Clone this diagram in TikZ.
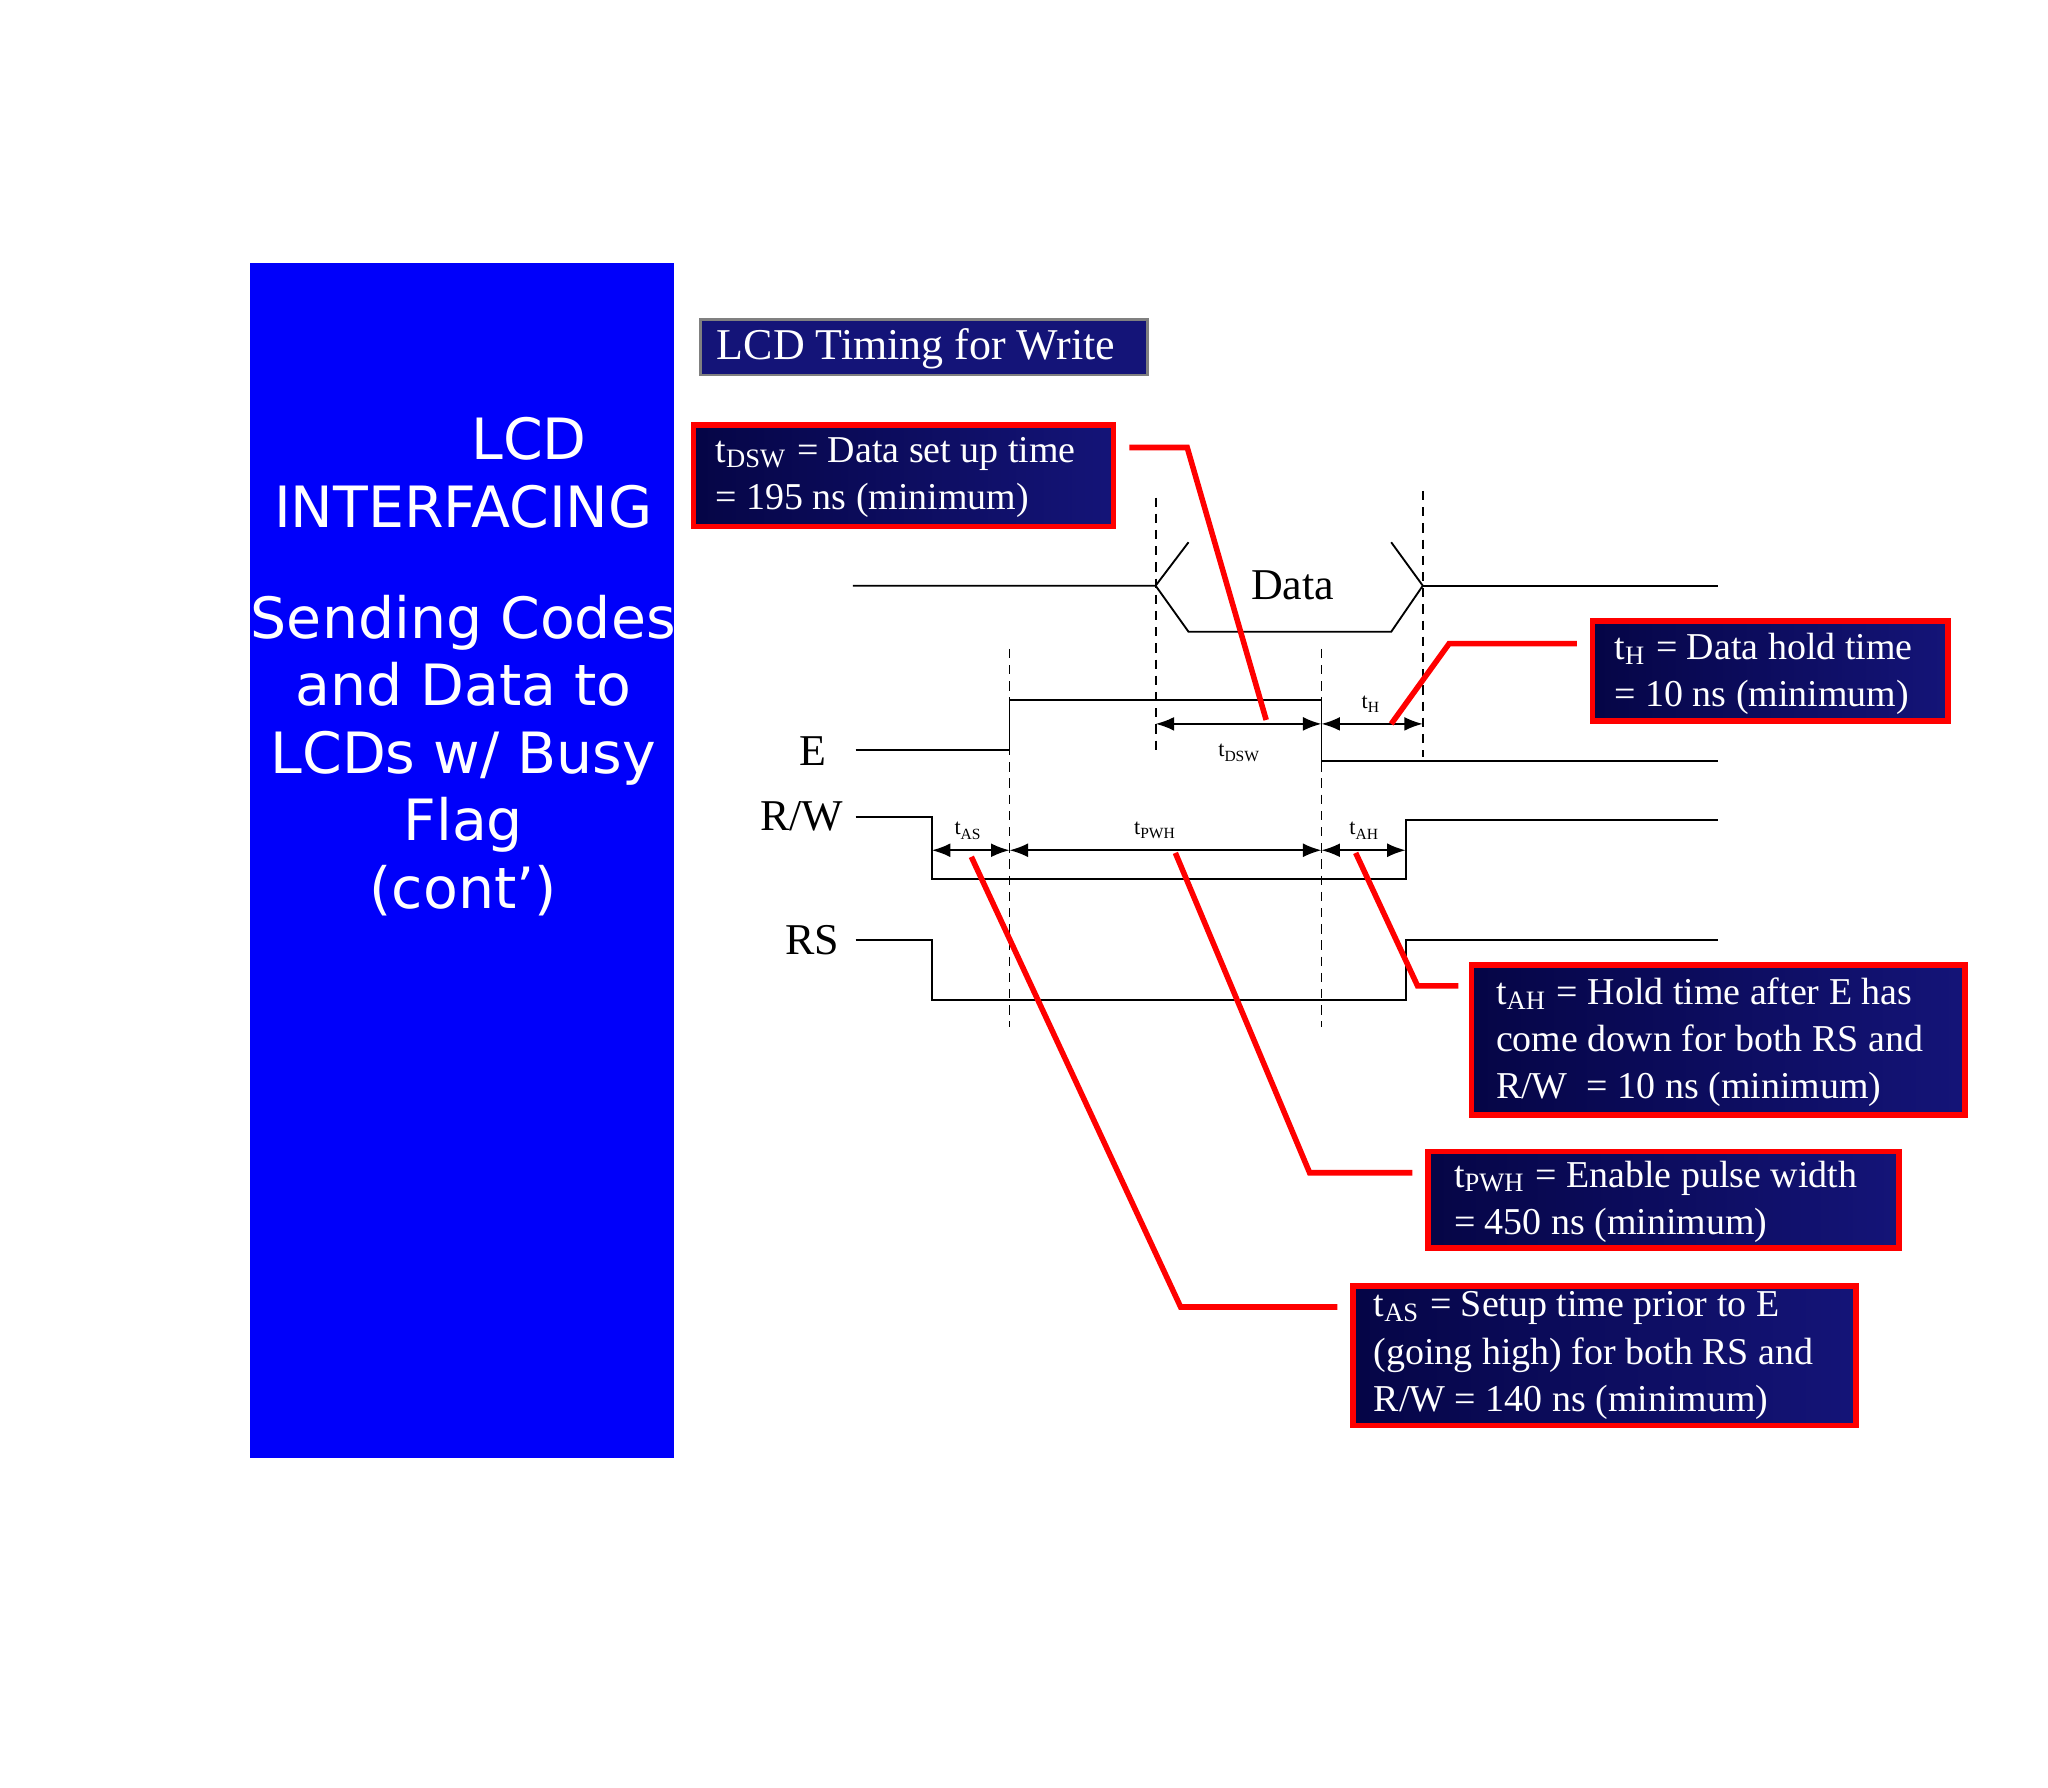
\documentclass[tikz,border=0pt]{standalone}
\usepackage{fontspec}
\setmainfont{Liberation Serif}
\newfontfamily\slidesans{DejaVu Sans}
\usetikzlibrary{arrows.meta}
\definecolor{slideblue}{RGB}{0,0,250}
\definecolor{boxnavy}{RGB}{20,20,120}
\definecolor{boxdark}{RGB}{5,5,70}
\begin{document}
\begin{tikzpicture}[x=0.01cm,y=-0.01cm,
  sig/.style={line width=0.4pt,black},
  dsh/.style={line width=0.4pt,dashed,dash pattern=on 2pt off 1.5pt},
  tarr/.style={line width=0.4pt,{Latex[length=4pt,width=3pt]}-{Latex[length=4pt,width=3pt]}},
  lead/.style={red,line width=1.2pt},
  callout/.style={draw=red,line width=1.2pt,left color=boxdark,right color=boxnavy},
  ctext/.style={white,font=\fontsize{8.2}{10.2}\selectfont,anchor=west,align=left,inner sep=0pt},
  sml/.style={font=\fontsize{4.8}{6}\selectfont},
  lbl/.style={font=\fontsize{9.5}{11}\selectfont},
  hd/.style={white,font=\slidesans\fontsize{12.3}{14.6}\selectfont,align=center}]
\useasboundingbox (0,0) rectangle (1556,1358);
% left panel
\fill[slideblue] (190,200) rectangle (512,1108);
\node[hd] (lcd) at (402,333) {LCD};
\node[hd] (intf) at (352,385) {INTERFACING};
\node[hd] (sub) at (352,574) {Sending Codes\\and Data to\\LCDs w/ Busy\\Flag\\(cont’)};
% title
\draw[gray,line width=0.6pt,fill=boxnavy] (532,243) rectangle (872,285);
\node[white,font=\fontsize{9.5}{12}\selectfont] (title) at (696,265) {LCD Timing for Write};
% callouts
\draw[callout] (527,323) rectangle (846,400);
\node[ctext] (tdsw) at (543,363) {t\textsubscript{DSW} = Data set up time\\= 195 ns (minimum)};
\draw[callout] (1210,472) rectangle (1480,548);
\node[ctext] (th) at (1226,512) {t\textsubscript{H} = Data hold time\\= 10 ns (minimum)};
\draw[callout] (1118,733) rectangle (1493,847);
\node[ctext] (tah) at (1136,792) {t\textsubscript{AH} = Hold time after E has\\come down for both RS and\\R/W\ \ = 10 ns (minimum)};
\draw[callout] (1085,875) rectangle (1443,948);
\node[ctext] (tpwh) at (1104,913) {t\textsubscript{PWH} = Enable pulse width\\= 450 ns (minimum)};
\draw[callout] (1028,977) rectangle (1410,1083);
\node[ctext] (tas) at (1043,1030) {t\textsubscript{AS} = Setup time prior to E\\(going high) for both RS and\\R/W = 140 ns (minimum)};
% Data bus
\draw[sig] (648,445) -- (878,445) -- (903,412);
\draw[sig] (878,445) -- (903,480) -- (1057,480) -- (1081,445) -- (1057,412);
\draw[sig] (1081,445) -- (1305,445);
\node[lbl] (data) at (982,445) {Data};
% dashed verticals
\draw[dsh] (878,378) -- (878,570);
\draw[dsh] (1081,373) -- (1081,575);
\draw[dsh] (767,493) -- (767,780);
\draw[dsh] (1004,493) -- (1004,780);
% E
\draw[sig] (650,570) -- (767,570) -- (767,532) -- (1004,532) -- (1004,578) -- (1305,578);
\node[lbl] (le) at (618,571) {E};
\coordinate (a1) at (878,550); \coordinate (a2) at (1004,550); \coordinate (a3) at (1081,550);
\draw[tarr] (a1) -- (a2); \draw[tarr] (a2) -- (a3);
\node[sml] at (942,572) {t\textsubscript{DSW}};
\node[sml] at (1042,535) {t\textsubscript{H}};
% R/W
\draw[sig] (650,621) -- (708,621) -- (708,668) -- (1068,668) -- (1068,623) -- (1305,623);
\node[lbl] (lrw) at (609,620) {R/W};
\coordinate (b1) at (708,646); \coordinate (b2) at (767,646); \coordinate (b3) at (1004,646); \coordinate (b4) at (1068,646);
\draw[tarr] (b1) -- (b2); \draw[tarr] (b2) -- (b3); \draw[tarr] (b3) -- (b4);
\node[sml] at (736,631) {t\textsubscript{AS}};
\node[sml] at (878,631) {t\textsubscript{PWH}};
\node[sml] at (1037,631) {t\textsubscript{AH}};
% RS
\draw[sig] (650,714) -- (708,714) -- (708,760) -- (1068,760) -- (1068,714) -- (1305,714);
\node[lbl] (lrs) at (617,714) {RS};
% leaders
\draw[lead] (858,340) -- (902,340) -- (962,547);
\draw[lead] (1198,489) -- (1101,489) -- (1057,550);
\draw[lead] (1108,749) -- (1077,749) -- (1030,648);
\draw[lead] (1073,891) -- (995,891) -- (893,648);
\draw[lead] (1016,993) -- (897,993) -- (738,651);
\end{tikzpicture}
\end{document}
